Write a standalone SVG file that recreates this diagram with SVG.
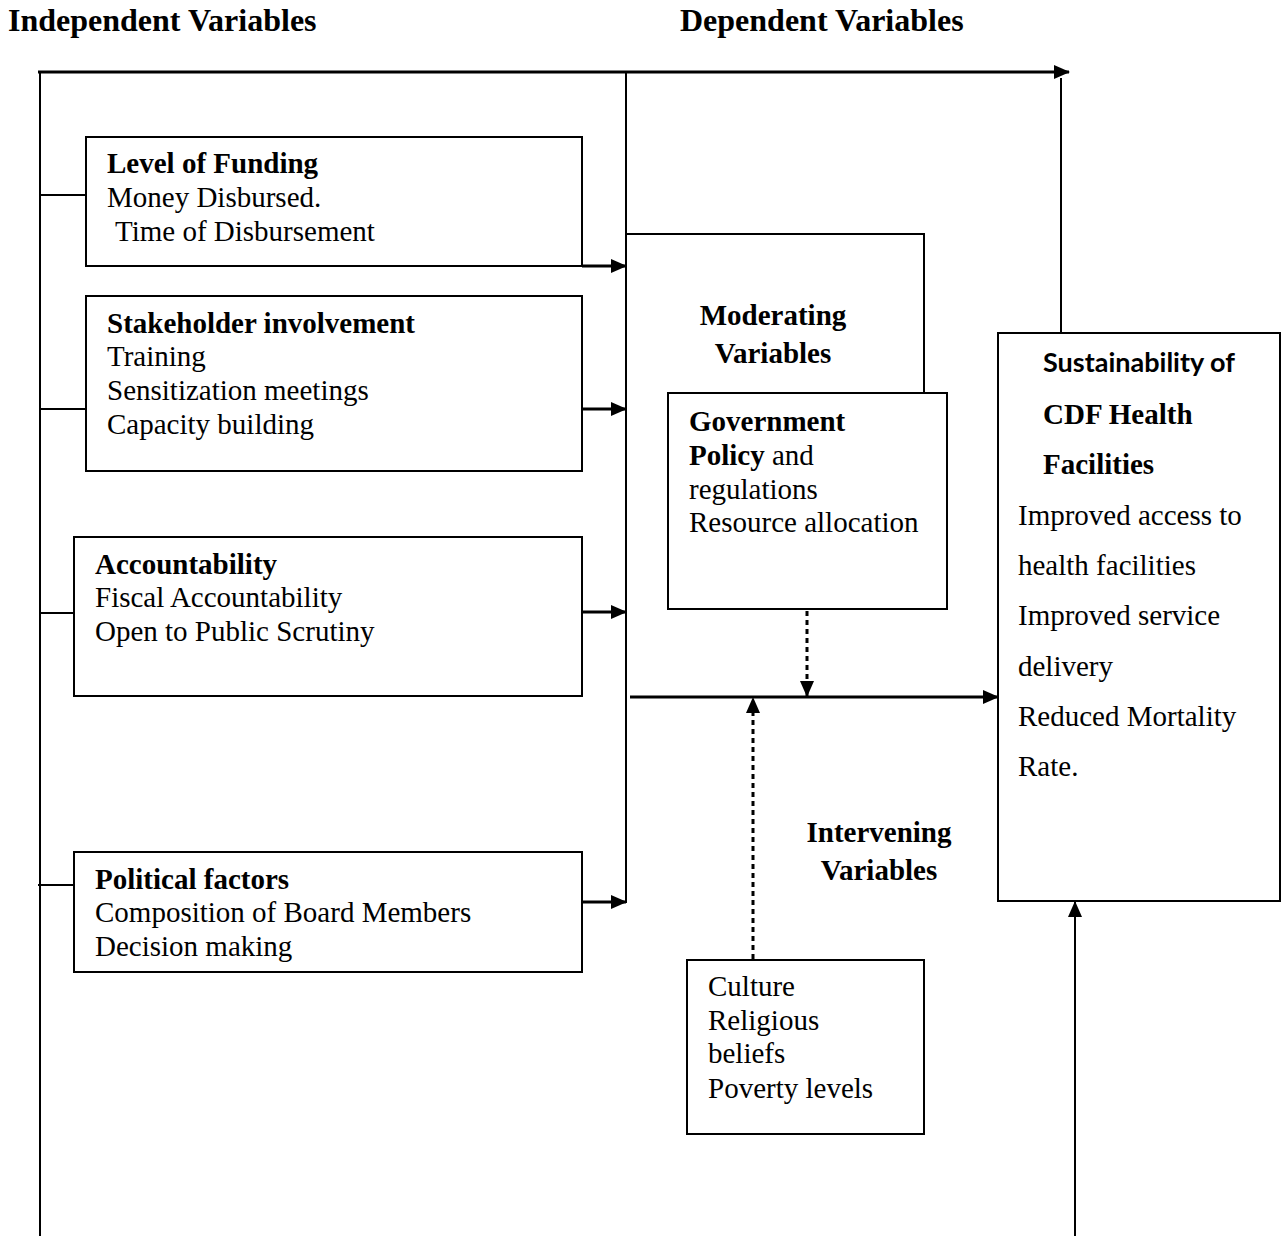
<svg xmlns="http://www.w3.org/2000/svg" width="1287" height="1243" viewBox="0 0 1287 1243">
<style>
text{font-family:"Liberation Serif","Times New Roman",serif;font-size:29px;fill:#000}
.b{font-weight:bold}
.h{font-weight:bold;font-size:32px}
.cal{font-family:Lato,"Liberation Sans",sans-serif;font-weight:bold;font-size:27px}
.box{fill:#fff;stroke:#000;stroke-width:2}
.ln{fill:none;stroke:#000;stroke-width:2}
.ar{fill:none;stroke:#000;stroke-width:3}
.dot{fill:none;stroke:#000;stroke-width:3;stroke-dasharray:5 4}
</style>
<defs>
<marker id="ah" markerWidth="16" markerHeight="14" refX="15" refY="7" orient="auto" markerUnits="userSpaceOnUse">
<path d="M0,0 L16,7 L0,14 Z" fill="#000"/>
</marker>
</defs>
<g id="titles">
<text class="h" x="8" y="31">Independent Variables</text>
<text class="h" x="680" y="31">Dependent Variables</text>
</g>
<g id="connectors">
<line class="ar" x1="38" y1="72" x2="1069" y2="72" marker-end="url(#ah)"/>
<line class="ln" x1="40" y1="72" x2="40" y2="1236"/>
<line class="ln" x1="626" y1="72" x2="626" y2="903"/>
<line class="ln" x1="1061" y1="333" x2="1061" y2="78"/>
<line class="ln" x1="40" y1="195" x2="86" y2="195"/>
<line class="ln" x1="40" y1="409" x2="86" y2="409"/>
<line class="ln" x1="40" y1="613" x2="74" y2="613"/>
<line class="ln" x1="38" y1="885" x2="74" y2="885"/>
<line class="ar" x1="582" y1="266" x2="626" y2="266" marker-end="url(#ah)"/>
<line class="ar" x1="582" y1="409" x2="626" y2="409" marker-end="url(#ah)"/>
<line class="ar" x1="582" y1="612" x2="626" y2="612" marker-end="url(#ah)"/>
<line class="ar" x1="582" y1="902" x2="626" y2="902" marker-end="url(#ah)"/>
<polyline class="ln" points="626,234 924,234 924,393"/>
<line class="ar" x1="630" y1="697" x2="998" y2="697" marker-end="url(#ah)"/>
<line class="dot" x1="807" y1="611" x2="807" y2="696" marker-end="url(#ah)"/>
<line class="dot" x1="753" y1="959" x2="753" y2="698" marker-end="url(#ah)"/>
<line class="ln" x1="1075" y1="1236" x2="1075" y2="902" marker-end="url(#ah)"/>
</g>
<g id="funding">
<rect class="box" x="86" y="137" width="496" height="129"/>
<text class="b" x="107" y="173">Level of Funding</text>
<text x="107" y="207">Money Disbursed.</text>
<text x="115" y="241">Time of Disbursement</text>
</g>
<g id="stakeholder">
<rect class="box" x="86" y="296" width="496" height="175"/>
<text class="b" x="107" y="333">Stakeholder involvement</text>
<text x="107" y="366">Training</text>
<text x="107" y="400">Sensitization meetings</text>
<text x="107" y="434">Capacity building</text>
</g>
<g id="accountability">
<rect class="box" x="74" y="537" width="508" height="159"/>
<text class="b" x="95" y="574">Accountability</text>
<text x="95" y="607">Fiscal Accountability</text>
<text x="95" y="641">Open to Public Scrutiny</text>
</g>
<g id="political">
<rect class="box" x="74" y="852" width="508" height="120"/>
<text class="b" x="95" y="889">Political factors</text>
<text x="95" y="922">Composition of Board Members</text>
<text x="95" y="956">Decision making</text>
</g>
<g id="moderating">
<text class="b" x="773" y="325" text-anchor="middle">Moderating</text>
<text class="b" x="773" y="363" text-anchor="middle">Variables</text>
</g>
<g id="government">
<rect class="box" x="668" y="393" width="279" height="216"/>
<text class="b" x="689" y="431">Government</text>
<text x="689" y="465"><tspan class="b">Policy</tspan> and</text>
<text x="689" y="499">regulations</text>
<text x="689" y="532">Resource allocation</text>
</g>
<g id="intervening-label">
<text class="b" x="879" y="842" text-anchor="middle">Intervening</text>
<text class="b" x="879" y="880" text-anchor="middle">Variables</text>
</g>
<g id="intervening">
<rect class="box" x="687" y="960" width="237" height="174"/>
<text x="708" y="996">Culture</text>
<text x="708" y="1030">Religious</text>
<text x="708" y="1063">beliefs</text>
<text x="708" y="1098">Poverty levels</text>
</g>
<g id="sustainability">
<rect class="box" x="998" y="333" width="282" height="568"/>
<text class="cal" x="1043" y="372">Sustainability of</text>
<text class="b" x="1043" y="424">CDF Health</text>
<text class="b" x="1043" y="474">Facilities</text>
<text x="1018" y="525">Improved access to</text>
<text x="1018" y="575">health facilities</text>
<text x="1018" y="625">Improved service</text>
<text x="1018" y="676">delivery</text>
<text x="1018" y="726">Reduced Mortality</text>
<text x="1018" y="776">Rate.</text>
</g>
</svg>
